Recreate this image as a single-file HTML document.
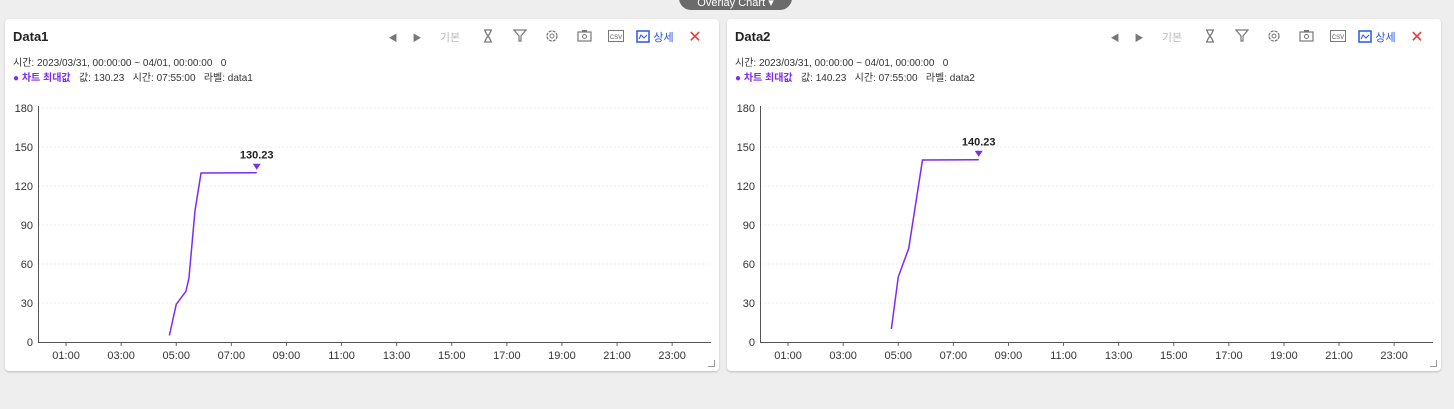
<!DOCTYPE html>
<html><head><meta charset="utf-8">
<style>
body{margin:0;width:1454px;height:409px;background:#eeeeee;font-family:"Liberation Sans","Noto Sans CJK KR",sans-serif;position:relative;overflow:hidden}
.pill{position:absolute;left:679px;top:-14px;width:113px;height:24px;border-radius:12px;background:#6b6b6b;color:#fff;font-size:11px;text-align:center;line-height:34px}
.panel{position:absolute;top:19px;width:714px;height:352px;background:#fff;border-radius:4px;box-shadow:0 1px 2px rgba(0,0,0,.2)}
.title{position:absolute;left:8px;top:10px;font-size:13px;font-weight:bold;color:#222}
.info{position:absolute;left:8px;top:37px;font-size:10px;color:#333;line-height:15px;white-space:pre}
.info b{color:#7b2cf0}
.tools{position:absolute;right:7px;top:9px;height:18px;font-size:11px;color:#aaa;display:flex;align-items:center;gap:0}
.tools span{display:inline-block;text-align:center}
svg.chart{position:absolute;left:0;top:0}
.corner{position:absolute;right:4px;bottom:4px;width:6px;height:6px;border-right:1px solid #999;border-bottom:1px solid #999}
</style></head><body>
<div class="pill">Overlay Chart ▾</div>

<div class="panel" id="p1" style="left:5px">
 <div class="title">Data1</div>
 <div class="info">시간: 2023/03/31, 00:00:00 ~ 04/01, 00:00:00   0
<b>● 차트 최대값</b>   값: 130.23   시간: 07:55:00   라벨: data1</div>
</div>
<div class="panel" id="p2" style="left:727px">
 <div class="title">Data2</div>
 <div class="info">시간: 2023/03/31, 00:00:00 ~ 04/01, 00:00:00   0
<b>● 차트 최대값</b>   값: 140.23   시간: 07:55:00   라벨: data2</div>
</div>

<script>
const hourTicks=["01:00","03:00","05:00","07:00","09:00","11:00","13:00","15:00","17:00","19:00","21:00","23:00"];
const yTicks=[0,30,60,90,120,150,180];
const times1=[4.75,5.0,5.35,5.46,5.68,5.9,7.92];
const values1=[5,29,39,49,101,130,130.23];
const times2=[4.75,5.0,5.38,5.88,7.92];
const values2=[10,50,72,140,140.23];
const maxLabel1="130.23", maxLabel2="140.23";
const NS="http://www.w3.org/2000/svg";
function mk(tag,attrs,parent){const e=document.createElementNS(NS,tag);for(const k in attrs)e.setAttribute(k,attrs[k]);parent.appendChild(e);return e;}
function toolbar(panel){
 const t=document.createElement('div');t.className='tools';
 
 t.innerHTML=`<span style="width:26px;font-size:9px;color:#777">◀</span>
<span style="width:22px;font-size:9px;color:#777">▶</span>
<span style="width:44px;color:#bbb">기본</span>
<span style="width:32px"><svg width="10" height="14"><path d="M1 1H9M1 13H9M2 1C2 5 8 9 8 13M8 1C8 5 2 9 2 13" fill="none" stroke="#777" stroke-width="1.3"/></svg></span>
<span style="width:32px;color:#777"><svg width="14" height="13"><path d="M1 1H13L8 7V12H6V7Z" fill="none" stroke="#777" stroke-width="1.2"/></svg></span>
<span style="width:32px"><svg width="14" height="14"><circle cx="7" cy="7" r="5" fill="none" stroke="#777" stroke-width="1.3" stroke-dasharray="3 1"/><circle cx="7" cy="7" r="2" fill="none" stroke="#777"/></svg></span>
<span style="width:32px"><svg width="15" height="13"><rect x="1" y="3" width="13" height="9" fill="none" stroke="#777" stroke-width="1.2"/><rect x="5" y="1" width="5" height="2" fill="#777"/><circle cx="7.5" cy="7.5" r="2" fill="none" stroke="#777"/></svg></span>
<span style="width:32px"><svg width="16" height="12"><rect x="0.5" y="0.5" width="15" height="11" fill="none" stroke="#777"/><text x="8" y="9" font-size="6" text-anchor="middle" fill="#555" font-family="Liberation Sans">CSV</text></svg></span>
<span style="width:46px;color:#2a55e5;font-size:11px"><svg width="14" height="13" style="vertical-align:-2px"><rect x="1" y="1" width="12" height="11" fill="none" stroke="#2a55e5" stroke-width="1.5"/><path d="M3 9L5 5L8 8L11 5" fill="none" stroke="#2a55e5"/></svg> 상세</span>
<span style="width:34px;color:#e53935;font-size:16px">✕</span>`;
 panel.appendChild(t);
 const c=document.createElement('div');c.className='corner';
 panel.appendChild(c);
}
function chart(panel,times,values,label){
 const L=33,B=323,T=89,W=27.55;
 const x=h=>L+0.5+h*W, y=v=>B-v*(B-T)/180;
 const s=mk('svg',{class:'chart',width:714,height:352},panel);
 
 yTicks.forEach(v=>{
  if(v>0){const g=mk('line',{x1:L,x2:706,y1:y(v),y2:y(v),stroke:'#ececec','stroke-dasharray':'2 2'},s);}
  const t=mk('text',{x:L-5,y:y(v)+4,'font-size':11,'text-anchor':'end',fill:'#333','font-family':'Liberation Sans'},s);t.textContent=v;
  
 });
 hourTicks.forEach(h=>{
  const hr=parseInt(h,10);
  const tk=mk('line',{x1:x(hr),x2:x(hr),y1:B,y2:B+4,stroke:'#666'},s);
  const t=mk('text',{x:x(hr),y:B+17,'font-size':11,'text-anchor':'middle',fill:'#333','font-family':'Liberation Sans'},s);t.textContent=h;
  
 });
 const ya=mk('line',{x1:L+0.5,x2:L+0.5,y1:T-2,y2:B,stroke:'#555'},s);
 const xa=mk('line',{x1:L,x2:706,y1:B+0.5,y2:B+0.5,stroke:'#555'},s);
 const pts=times.map((t,i)=>x(t)+','+y(values[i])).join(' ');
 const pl=mk('polyline',{points:pts,fill:'none',stroke:'#7b2cf0','stroke-width':1.5},s);
 
 let mi=0;values.forEach((v,i)=>{if(v>values[mi])mi=i;});
 const mx=x(times[mi]),my=y(values[mi]);
 const m=mk('path',{d:`M${mx-4} ${my-9}L${mx+4} ${my-9}L${mx} ${my-3}Z`,fill:'#7b2cf0'},s);
 
 const lt=mk('text',{x:mx,y:my-14,'font-size':11,'font-weight':'bold','text-anchor':'middle',fill:'#222','font-family':'Liberation Sans'},s);lt.textContent=label;
 
}
const p1=document.getElementById('p1'),p2=document.getElementById('p2');
toolbar(p1);toolbar(p2);
chart(p1,times1,values1,maxLabel1);
chart(p2,times2,values2,maxLabel2);
</script>
</body></html>
